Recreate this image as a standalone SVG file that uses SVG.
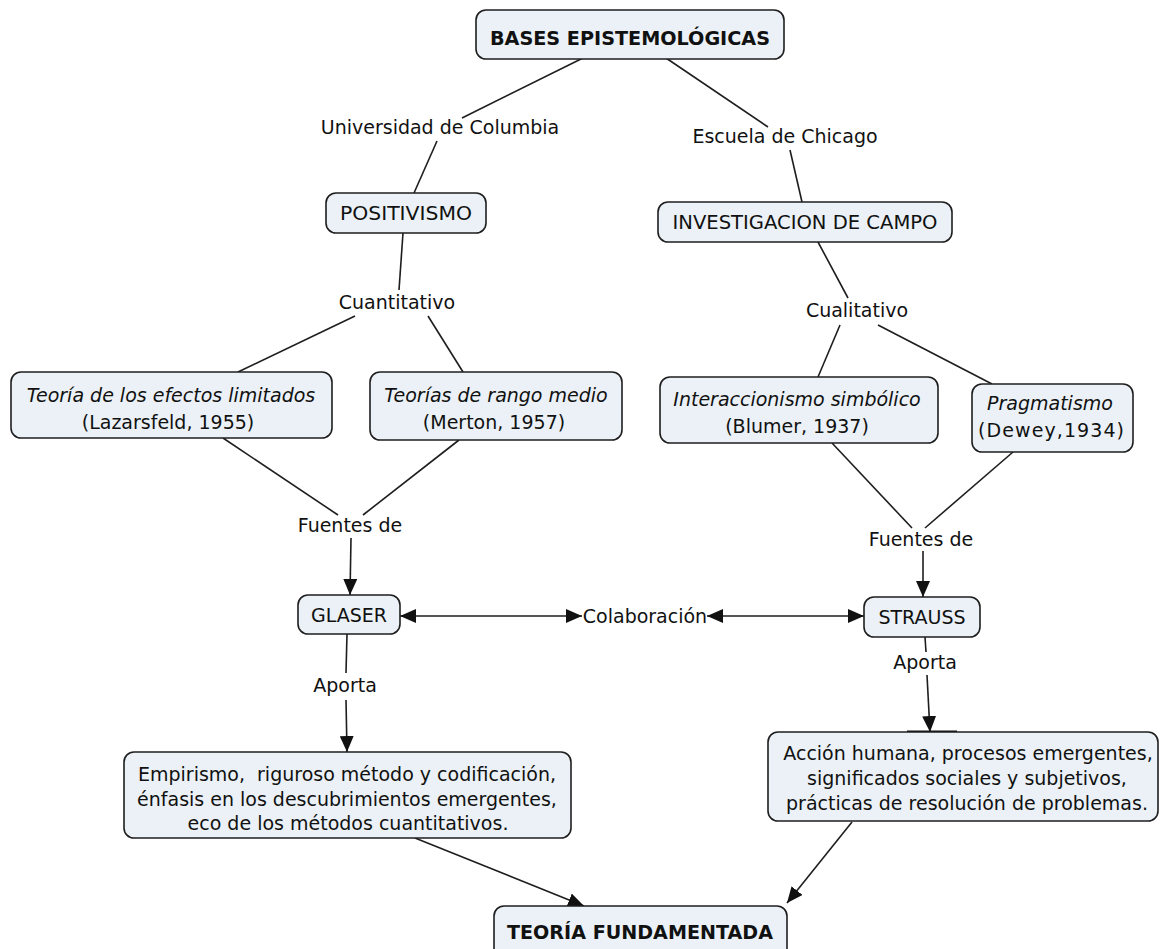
<svg xmlns="http://www.w3.org/2000/svg" width="1160" height="949" viewBox="0 0 1160 949">
<style>
  .box { fill: #ebf1f6; stroke: #1e1e1e; stroke-width: 1.6; }
  .c { stroke: #1e1e1e; stroke-width: 1.6; fill: none; }
  .t { font-family: "DejaVu Sans", Verdana, sans-serif; font-size: 19px; fill: #111; text-anchor: middle; }
  .b { font-family: "DejaVu Sans", Verdana, sans-serif; font-size: 19.3px; font-weight: bold; fill: #111; text-anchor: middle; }
  .i { font-style: italic; }
</style>
<defs>
  <marker id="ah" viewBox="0 0 16 14" refX="16" refY="7" markerWidth="16" markerHeight="14" markerUnits="userSpaceOnUse" orient="auto-start-reverse">
    <path d="M0,0 L16,7 L0,14 z" fill="#111"/>
  </marker>
</defs>

<g id="connectors">
  <line class="c" x1="583" y1="58" x2="462" y2="118"/>
  <line class="c" x1="437" y1="141" x2="414" y2="193"/>
  <line class="c" x1="666" y1="58" x2="768" y2="127"/>
  <line class="c" x1="790" y1="150" x2="802" y2="202"/>
  <line class="c" x1="403" y1="233" x2="399" y2="290"/>
  <line class="c" x1="355" y1="316" x2="238" y2="372"/>
  <line class="c" x1="428" y1="316" x2="463" y2="372"/>
  <line class="c" x1="818" y1="242" x2="848" y2="298"/>
  <line class="c" x1="840" y1="325" x2="818" y2="377"/>
  <line class="c" x1="878" y1="325" x2="992" y2="384"/>
  <line class="c" x1="223" y1="438" x2="338" y2="515"/>
  <line class="c" x1="459" y1="440" x2="363" y2="515"/>
  <line class="c" x1="351" y1="538" x2="350" y2="595" marker-end="url(#ah)"/>
  <line class="c" x1="832" y1="443" x2="912" y2="528"/>
  <line class="c" x1="1013" y1="452" x2="925" y2="528"/>
  <line class="c" x1="923" y1="551" x2="923" y2="597" marker-end="url(#ah)"/>
  <line class="c" x1="400" y1="616" x2="582" y2="616" marker-start="url(#ah)" marker-end="url(#ah)"/>
  <line class="c" x1="707" y1="616" x2="864" y2="616" marker-start="url(#ah)" marker-end="url(#ah)"/>
  <line class="c" x1="347" y1="634" x2="346" y2="673"/>
  <line class="c" x1="346" y1="700" x2="347" y2="752" marker-end="url(#ah)"/>
  <line class="c" x1="925" y1="637" x2="926" y2="652"/>
  <line class="c" x1="927" y1="675" x2="930" y2="732" marker-end="url(#ah)"/>
  <line x1="907" y1="732" x2="957" y2="732" stroke="#111" stroke-width="3"/>
  <line class="c" x1="415" y1="838" x2="584" y2="906" marker-end="url(#ah)"/>
  <line class="c" x1="852" y1="822" x2="787" y2="903" marker-end="url(#ah)"/>
</g>

<g id="labels">
  <text class="t" x="440" y="134">Universidad de Columbia</text>
  <text class="t" x="785" y="143">Escuela de Chicago</text>
  <text class="t" x="397" y="309">Cuantitativo</text>
  <text class="t" x="857" y="317">Cualitativo</text>
  <text class="t" x="350" y="532">Fuentes de</text>
  <text class="t" x="921" y="546">Fuentes de</text>
  <text class="t" x="645" y="623">Colaboración</text>
  <text class="t" x="345" y="692">Aporta</text>
  <text class="t" x="925" y="669">Aporta</text>
</g>

<g id="bases">
  <rect class="box" x="476" y="10" width="308" height="49" rx="10"/>
  <text class="b" x="630" y="45" textLength="280" lengthAdjust="spacingAndGlyphs">BASES EPISTEMOLÓGICAS</text>
</g>
<g id="positivismo">
  <rect class="box" x="326" y="193" width="160" height="40" rx="10"/>
  <text class="t" x="406" y="220" textLength="132" lengthAdjust="spacingAndGlyphs">POSITIVISMO</text>
</g>
<g id="investigacion">
  <rect class="box" x="658" y="202" width="294" height="40" rx="10"/>
  <text class="t" x="805" y="229" textLength="265" lengthAdjust="spacingAndGlyphs">INVESTIGACION DE CAMPO</text>
</g>
<g id="efectos">
  <rect class="box" x="11" y="372" width="321" height="66" rx="10"/>
  <text class="t i" x="171" y="402">Teoría de los efectos limitados</text>
  <text class="t" x="168" y="429">(Lazarsfeld, 1955)</text>
</g>
<g id="rango">
  <rect class="box" x="370" y="372" width="252" height="68" rx="10"/>
  <text class="t i" x="496" y="402">Teorías de rango medio</text>
  <text class="t" x="494" y="429">(Merton, 1957)</text>
</g>
<g id="interaccionismo">
  <rect class="box" x="660" y="377" width="278" height="66" rx="10"/>
  <text class="t i" x="797" y="406">Interaccionismo simbólico</text>
  <text class="t" x="797" y="433">(Blumer, 1937)</text>
</g>
<g id="pragmatismo">
  <rect class="box" x="972" y="384" width="161" height="68" rx="10"/>
  <text class="t i" x="1050" y="410">Pragmatismo</text>
  <text class="t" x="1051" y="437" textLength="146" lengthAdjust="spacing">(Dewey,1934)</text>
</g>
<g id="glaser">
  <rect class="box" x="298" y="595" width="102" height="39" rx="10"/>
  <text class="t" x="349" y="622">GLASER</text>
</g>
<g id="strauss">
  <rect class="box" x="864" y="597" width="116" height="40" rx="10"/>
  <text class="t" x="922" y="624">STRAUSS</text>
</g>
<g id="empirismo">
  <rect class="box" x="124" y="752" width="447" height="86" rx="10"/>
  <text class="t" x="347" y="781" xml:space="preserve">Empirismo,  riguroso método y codificación,</text>
  <text class="t" x="347" y="806">énfasis en los descubrimientos emergentes,</text>
  <text class="t" x="348" y="830">eco de los métodos cuantitativos.</text>
</g>
<g id="accion">
  <rect class="box" x="768" y="732" width="390" height="89" rx="10"/>
  <text class="t" x="968" y="760">Acción humana, procesos emergentes,</text>
  <text class="t" x="967" y="785">significados sociales y subjetivos,</text>
  <text class="t" x="967" y="810">prácticas de resolución de problemas.</text>
</g>
<g id="teoria">
  <rect class="box" x="494" y="906" width="293" height="60" rx="10"/>
  <text class="b" x="640" y="939" textLength="266" lengthAdjust="spacingAndGlyphs">TEORÍA FUNDAMENTADA</text>
</g>
</svg>
